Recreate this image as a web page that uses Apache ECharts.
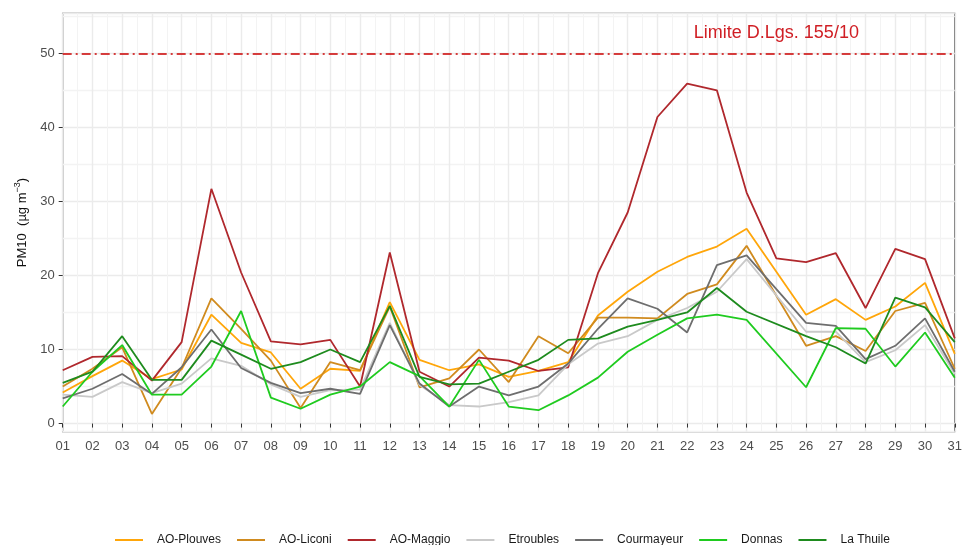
<!DOCTYPE html>
<html><head><meta charset="utf-8">
<script src="https://cdn.jsdelivr.net/npm/echarts@6/dist/echarts.min.js"></script>
<style>html,body{margin:0;padding:0;background:#fff}#c{width:965px;height:545px}</style>
</head><body><div id="c"></div>
<script>
// ---- data ----
const days = ['01','02','03','04','05','06','07','08','09','10','11','12','13','14','15','16','17','18','19','20','21','22','23','24','25','26','27','28','29','30','31'];
const yTickValues = [0, 10, 20, 30, 40, 50];
const limitValue = 50;
const limitLabel = 'Limite D.Lgs. 155/10';
const limitLabelPos = [25, 52.8];

const seriesNames = ['AO-Plouves','AO-Liconi','AO-Maggio','Etroubles','Courmayeur','Donnas','La Thuile'];
const plouves    = [4.2,6.4,8.5,6.0,7.3,14.7,10.9,9.6,4.7,7.4,7.1,16.4,8.6,7.2,8.0,6.3,7.1,8.3,14.6,17.8,20.5,22.5,23.9,26.3,null,14.7,16.8,14.0,15.8,19.0,9.4];
const liconi     = [5.0,7.4,10.3,1.3,7.5,16.9,12.8,8.5,2.1,8.3,7.2,15.8,4.9,6.1,10.0,5.6,11.8,9.5,14.3,14.3,14.2,17.5,18.8,24.0,null,10.5,11.8,9.8,15.2,16.3,7.4];
const maggio     = [7.2,9.0,9.1,5.8,11.0,31.7,20.4,11.1,10.7,11.3,5.0,23.1,7.0,5.0,8.9,8.5,7.1,7.6,20.3,28.5,41.4,45.9,45.0,31.2,22.3,21.8,23.0,15.6,23.6,22.2,11.5];
const etroubles  = [3.9,3.6,5.6,4.1,5.4,8.8,7.8,5.3,3.6,4.5,4.6,13.6,5.2,2.5,2.3,2.9,3.8,8.0,10.8,11.8,14.0,15.6,17.8,22.2,null,12.4,12.4,8.3,9.9,13.3,6.7];
const courmayeur = [3.4,4.7,6.7,4.0,7.6,12.7,7.5,5.5,4.1,4.7,4.0,13.3,5.4,2.3,5.0,3.8,5.0,8.1,12.8,16.9,15.5,12.3,21.4,22.7,null,13.6,13.2,8.7,10.5,14.2,7.0];
const donnas     = [2.3,7.0,10.6,3.9,3.9,7.7,15.2,3.5,2.0,3.9,5.0,8.3,6.4,2.3,8.6,2.3,1.8,3.8,6.2,9.7,12.0,14.2,14.7,14.0,null,4.9,12.9,12.8,7.7,12.3,6.2];
const laThuile   = [5.5,7.0,11.8,5.9,5.9,11.2,9.3,7.4,8.3,10.0,8.3,15.9,6.3,5.3,5.4,7.0,8.6,11.3,11.5,13.1,14.0,15.0,18.3,15.1,null,11.8,10.3,8.1,17.0,15.7,11.0];

const seriesValues = [plouves, liconi, maggio, etroubles, courmayeur, donnas, laThuile];
const seriesColors = ['#FFA60A','#D08B1F','#B0282D','#C9C9C9','#6E6E6E','#1FCB1F','#1E8B1E'];

// ---- chart ----
const FONT = 'Liberation Sans, Arial, sans-serif';
const chart = echarts.init(document.getElementById('c'), null, {renderer: 'canvas'});

const series = seriesNames.map((name, i) => {
  const s = {
    name: name,
    type: 'line',
    xAxisIndex: 0,
    yAxisIndex: 0,
    symbol: 'none',
    connectNulls: true,
    lineStyle: {color: seriesColors[i], width: 1.8},
    itemStyle: {color: seriesColors[i]},
    emphasis: {disabled: true},
    data: seriesValues[i].map((v, j) => [j + 1, v])
  };
  if (i === 0) {
    s.markLine = {
      silent: true, symbol: 'none', animation: false,
      label: {show: false},
      lineStyle: {color: '#CC0000', width: 1.5, type: [9, 4, 2, 4]},
      data: [{yAxis: limitValue}]
    };
    s.markPoint = {
      silent: true, symbol: 'rect', symbolSize: 0, animation: false,
      label: {show: true, position: 'inside', formatter: limitLabel, color: '#D01E24', fontSize: 18, fontFamily: FONT},
      data: [{coord: limitLabelPos}]
    };
  }
  return s;
});

chart.setOption({
  animation: false,
  backgroundColor: '#fff',
  textStyle: {fontFamily: FONT},
  grid: {left: 62.7, right: 6.7, top: 13.3, bottom: 113.3, show: true, borderColor: '#555', borderWidth: 1.2, containLabel: false},
  legend: {
    data: seriesNames,
    top: 529, left: 110,
    icon: 'rect',
    itemWidth: 28, itemHeight: 2, itemGap: 16,
    textStyle: {fontSize: 12, color: '#1A1A1A', fontFamily: FONT, padding: [0, 0, 0, 9]}
  },
  xAxis: {
    type: 'value', min: 1, max: 31, interval: 1,
    axisLine: {show: false},
    axisTick: {show: true, length: 4, lineStyle: {color: '#333', width: 1}},
    axisLabel: {color: '#4D4D4D', fontSize: 13, margin: 8, formatter: v => days[v - 1] || ''},
    splitLine: {show: true, lineStyle: {color: '#EBEBEB', width: 1.4}},
    minorTick: {show: false, splitNumber: 2},
    minorSplitLine: {show: true, lineStyle: {color: '#F3F3F3', width: 1}}
  },
  yAxis: [{
    type: 'value', min: -1.1, max: 55.4, position: 'left',
    axisLine: {show: false},
    axisTick: {show: true, length: 4, lineStyle: {color: '#333', width: 1}, customValues: yTickValues},
    axisLabel: {color: '#4D4D4D', fontSize: 13, margin: 8, customValues: yTickValues},
    splitLine: {show: false},
    name: '{a|PM10  (µg m}{s|−3}{a|)}',
    nameLocation: 'middle', nameGap: 31, nameRotate: 90,
    nameTextStyle: {
      rich: {
        a: {fontSize: 13, color: '#111', fontFamily: FONT, lineHeight: 16, verticalAlign: 'bottom'},
        s: {fontSize: 9, color: '#111', fontFamily: FONT, lineHeight: 16, verticalAlign: 'top'}
      }
    }
  }, {
    type: 'value', min: -1.1, max: 55.4, splitNumber: 10, position: 'left',
    axisLine: {show: false}, axisTick: {show: false}, axisLabel: {show: false},
    splitLine: {show: true, lineStyle: {color: ['#F3F3F3', '#EBEBEB'], width: 1.4}}
  }],
  series: series
});
</script>
</body></html>
